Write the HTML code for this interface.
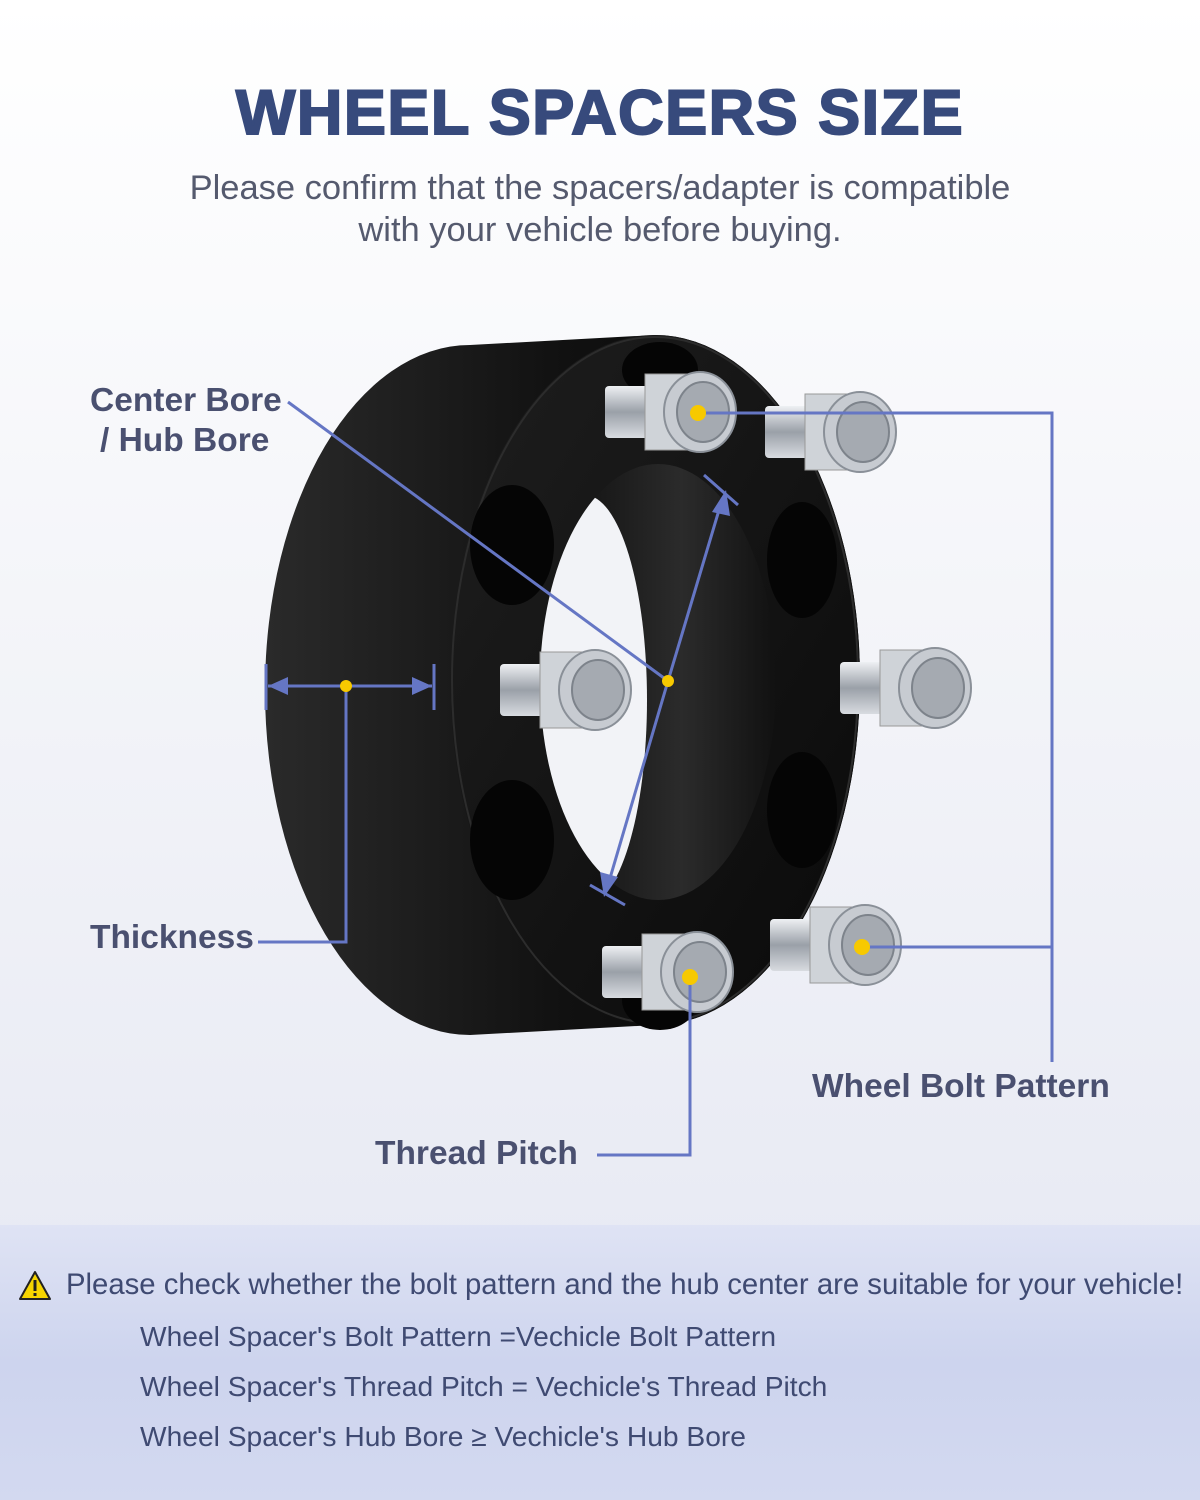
<!DOCTYPE html>
<html><head><meta charset="utf-8"><style>
html,body{margin:0;padding:0}
body{width:1200px;height:1500px;position:relative;overflow:hidden;background:linear-gradient(180deg,#ffffff 0%,#f4f5f9 40%,#e9ebf4 80%,#e3e6f2 100%);font-family:"Liberation Sans",sans-serif}
.t{position:absolute;white-space:nowrap}
.lab{font-weight:bold;font-size:33.5px;color:#4a5070}
.panel{position:absolute;left:0;top:1225px;width:1200px;height:275px;background:linear-gradient(180deg,#dfe3f4 0%,#cdd4ee 50%,#d3d9f0 100%)}
.pl{font-size:28.2px;color:#3f4a72}
</style></head><body>
<div class="t" style="left:0;width:1200px;text-align:center;top:77px;font-size:63px;font-weight:900;color:#374a7c;letter-spacing:1.5px;-webkit-text-stroke:2px #374a7c">WHEEL SPACERS SIZE</div>
<div class="t" style="left:0;width:1200px;text-align:center;top:167px;font-size:34.5px;color:#555a6e;line-height:42px">Please confirm that the spacers/adapter is compatible<br>with your vehicle before buying.</div>

<svg style="position:absolute;left:0;top:0" width="1200" height="1225">
<defs>
<linearGradient id="side" x1="0" x2="1"><stop offset="0" stop-color="#2a2a2a"/><stop offset="0.5" stop-color="#111"/><stop offset="1" stop-color="#050505"/></linearGradient>
<linearGradient id="face" x1="0" x2="1" y1="0" y2="1"><stop offset="0" stop-color="#1e1e1e"/><stop offset="1" stop-color="#0a0a0a"/></linearGradient>
<linearGradient id="bore" x1="0" x2="1"><stop offset="0" stop-color="#0c0c0c"/><stop offset="0.6" stop-color="#2b2b2b"/><stop offset="1" stop-color="#111"/></linearGradient>
<linearGradient id="silver" x1="0" y1="0" x2="0" y2="1"><stop offset="0" stop-color="#eef0f3"/><stop offset="0.5" stop-color="#9aa0a8"/><stop offset="1" stop-color="#d8dbe0"/></linearGradient>
<clipPath id="cb"><ellipse cx="658" cy="682" rx="118" ry="218"/></clipPath>
<g id="bolt">
<rect x="-80" y="-26" width="50" height="52" rx="4" fill="url(#silver)"/>
<polygon points="-40,-38 10,-38 25,0 10,38 -40,38 -40,0" fill="#cfd3d8" stroke="#999" stroke-width="1"/>
<ellipse cx="15" cy="0" rx="36" ry="40" fill="#c7cbd1" stroke="#8a9098" stroke-width="2"/>
<ellipse cx="18" cy="0" rx="26" ry="30" fill="#a5aab1" stroke="#7d838b" stroke-width="2"/>
</g>
</defs>
<path d="M470,345 L655,335 A205,345 0 0 1 655,1025 L470,1035 A205,345 0 0 1 470,345 Z" fill="url(#side)"/>
<ellipse cx="655" cy="680" rx="205" ry="345" fill="url(#face)"/>
<ellipse cx="655" cy="680" rx="203" ry="343" fill="none" stroke="#2c2c2c" stroke-width="2"/>
<ellipse cx="512" cy="545" rx="42" ry="60" fill="#050505"/>
<ellipse cx="512" cy="840" rx="42" ry="60" fill="#050505"/>
<ellipse cx="802" cy="560" rx="35" ry="58" fill="#050505"/>
<ellipse cx="802" cy="810" rx="35" ry="58" fill="#050505"/>
<ellipse cx="660" cy="370" rx="38" ry="28" fill="#050505"/>
<ellipse cx="660" cy="1000" rx="38" ry="30" fill="#050505"/>
<ellipse cx="658" cy="682" rx="118" ry="218" fill="url(#bore)"/>
<ellipse cx="585" cy="700" rx="62" ry="205" fill="#f2f3f7" clip-path="url(#cb)"/>
<use href="#bolt" x="685" y="412"/>
<use href="#bolt" x="845" y="432"/>
<use href="#bolt" x="580" y="690"/>
<use href="#bolt" x="920" y="688"/>
<use href="#bolt" x="682" y="972"/>
<use href="#bolt" x="850" y="945"/>
<g stroke="#6576c4" stroke-width="3" fill="none">
<line x1="288" y1="402" x2="668" y2="681"/>
<line x1="668" y1="681" x2="722" y2="500"/>
<line x1="668" y1="681" x2="608" y2="885"/>
<line x1="704" y1="475" x2="738" y2="505"/>
<line x1="590" y1="885" x2="625" y2="905"/>
<line x1="268" y1="686" x2="432" y2="686"/>
<line x1="266" y1="664" x2="266" y2="710"/>
<line x1="434" y1="664" x2="434" y2="710"/>
<polyline points="346,686 346,942 258,942"/>
<polyline points="698,413 1052,413 1052,1062"/>
<line x1="862" y1="947" x2="1052" y2="947"/>
<polyline points="690,977 690,1155 597,1155"/>
</g>
<g fill="#6576c4">
<polygon points="726,490 712,512 730,516"/>
<polygon points="604,897 600,872 618,877"/>
<polygon points="268,686 288,677 288,695"/>
<polygon points="432,686 412,677 412,695"/>
</g>
<g fill="#f7c900"><circle cx="668" cy="681" r="6"/><circle cx="346" cy="686" r="6"/><circle cx="698" cy="413" r="8"/><circle cx="862" cy="947" r="8"/><circle cx="690" cy="977" r="8"/></g>
</svg>

<div class="t lab" style="left:90px;top:382px">Center Bore</div>
<div class="t lab" style="left:100px;top:422px">/ Hub Bore</div>
<div class="t lab" style="left:90px;top:919px">Thickness</div>
<div class="t lab" style="left:812px;top:1068px">Wheel Bolt Pattern</div>
<div class="t lab" style="left:375px;top:1135px">Thread Pitch</div>

<div class="panel"></div>
<svg style="position:absolute;left:18px;top:1270px" width="34" height="32"><polygon points="17,2 32,29 2,29" fill="#f5d400" stroke="#222" stroke-width="2" stroke-linejoin="round"/><rect x="15.5" y="10" width="3" height="11" fill="#222"/><rect x="15.5" y="23" width="3" height="3" fill="#222"/></svg>
<div class="t pl" style="left:66px;top:1268px;font-size:29.3px">Please check whether the bolt pattern and the hub center are suitable for your vehicle!</div>
<div class="t pl" style="left:140px;top:1320px">Wheel Spacer's Bolt Pattern =Vechicle Bolt Pattern</div>
<div class="t pl" style="left:140px;top:1370px">Wheel Spacer's Thread Pitch = Vechicle's Thread Pitch</div>
<div class="t pl" style="left:140px;top:1420px">Wheel Spacer's Hub Bore ≥ Vechicle's Hub Bore</div>
</body></html>
